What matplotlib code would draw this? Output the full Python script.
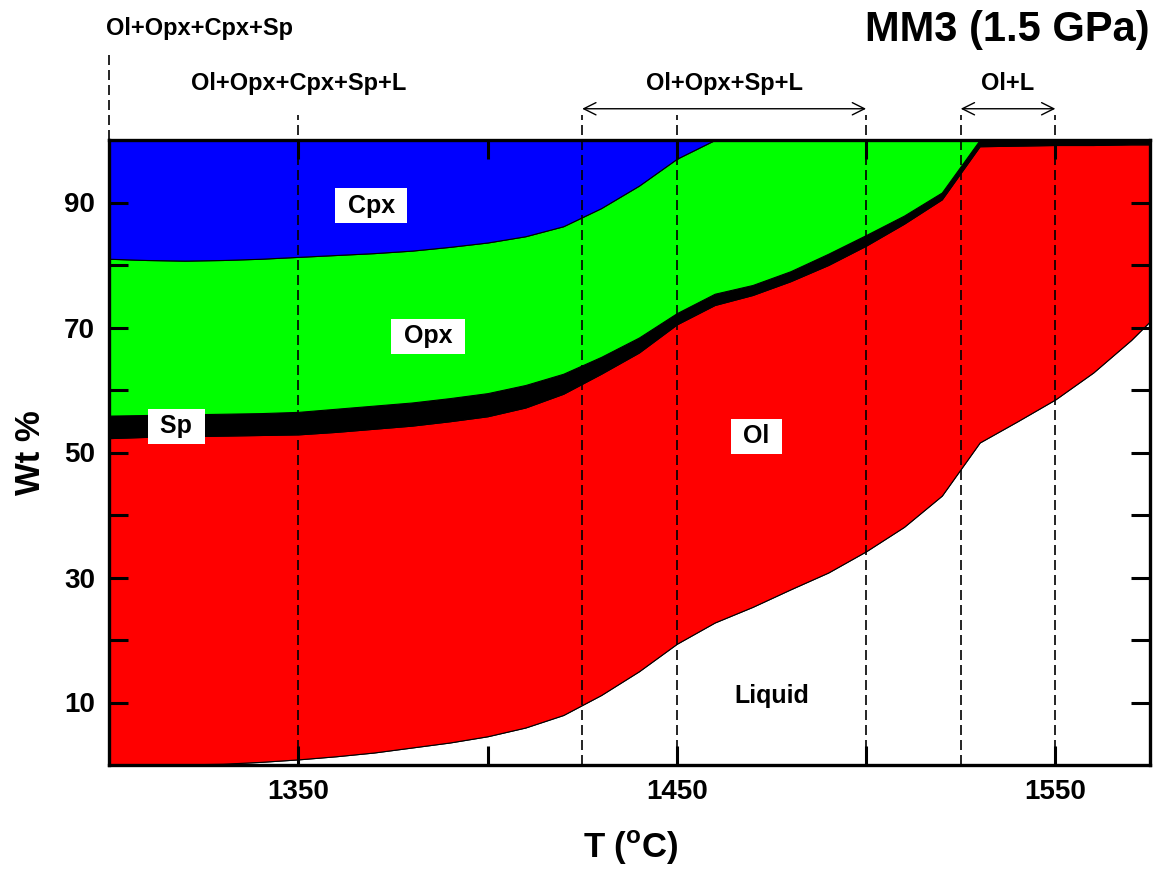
import numpy as np
import matplotlib
matplotlib.use('Agg')
import matplotlib.pyplot as plt

plt.rcParams['font.family'] = ['Liberation Sans', 'DejaVu Sans']
plt.rcParams['font.weight'] = 'bold'
plt.rcParams['mathtext.fontset'] = 'custom'
plt.rcParams['mathtext.rm'] = 'Liberation Sans:bold'
plt.rcParams['mathtext.bf'] = 'Liberation Sans:bold'

# temperature (deg C) and phase proportions (wt %)
temp = [1300, 1310, 1320, 1330, 1340, 1350, 1360, 1370, 1380, 1390, 1400, 1410, 1420, 1430, 1440,
        1450, 1460, 1470, 1480, 1490, 1500, 1510, 1520, 1530, 1540, 1550, 1560, 1570, 1575]
liquid = [0.0, 0.0, 0.1, 0.2, 0.5, 0.9, 1.4, 2.0, 2.8, 3.6, 4.6, 6.0, 8.0, 11.2, 15.0,
          19.4, 22.8, 25.3, 28.1, 30.8, 34.2, 38.1, 43.1, 51.6, 55.0, 58.5, 62.8, 68.0, 71.0]
ol = [52.3, 52.5, 52.5, 52.5, 52.3, 52.0, 51.9, 51.8, 51.5, 51.4, 51.2, 51.2, 51.4, 51.4, 51.0,
      51.1, 50.8, 49.9, 49.3, 49.2, 48.9, 48.5, 47.4, 47.4, 44.1, 40.7, 36.4, 31.3, 28.3]
sp = [3.6, 3.5, 3.5, 3.5, 3.5, 3.6, 3.7, 3.7, 3.7, 3.7, 3.7, 3.6, 3.2, 2.7, 2.4,
      1.8, 1.8, 1.6, 1.6, 1.8, 1.7, 1.3, 1.1, 1.0, 0.9, 0.8, 0.8, 0.7, 0.7]
opx = [25.1, 24.8, 24.6, 24.6, 24.7, 24.8, 24.6, 24.4, 24.3, 24.2, 24.1, 23.8, 23.6, 23.8, 24.3,
       24.7, 24.6, 23.2, 21.0, 18.2, 15.2, 12.1, 8.4, 0, 0, 0, 0, 0, 0]
cpx = [19.0, 19.2, 19.3, 19.2, 19.0, 18.7, 18.4, 18.1, 17.7, 17.1, 16.4, 15.4, 13.8, 10.9, 7.3,
       3.0, 0, 0, 0, 0, 0, 0, 0, 0, 0, 0, 0, 0, 0]

phases = ['Liquid', 'Ol', 'Sp', 'Opx', 'Cpx']
colors = ['white', '#ff0000', 'black', '#00ff00', '#0000ff']

# phase field boundaries and labels
bounds = [1350, 1425, 1450, 1500, 1525, 1550]
fields = ['Ol+Opx+Cpx+Sp', 'Ol+Opx+Cpx+Sp+L', 'Ol+Opx+Sp+L', 'Ol+L']
field_x = [1323.8, 1350, 1462.5, 1537.5]
field_y = [117.9, 109.1, 109.1, 109.1]

fig = plt.figure(figsize=(11.61, 8.73), dpi=100)
ax = fig.add_axes([109/1161, 108/873, 1041/1161, 625/873])

t = np.array(temp)
stack = np.vstack([liquid, ol, sp, opx, cpx])
cum = np.cumsum(stack, axis=0)
lower = np.zeros(len(t))
for i in range(len(phases)):
    ax.fill_between(t, lower, cum[i], facecolor=colors[i], edgecolor='black', linewidth=0.8, zorder=1)
    lower = cum[i]

ax.set_xlim(1300, 1575)
ax.set_ylim(0, 100)

for b in bounds:
    ax.plot([b, b], [0, 104], color='black', lw=1.2, ls=(0, (6, 3)), clip_on=False, zorder=3)
ax.plot([1300, 1300], [100, 114], color='black', lw=1.2, ls=(0, (6, 3)), clip_on=False, zorder=3)

for a, b in [(1425, 1500), (1525, 1550)]:
    ax.annotate('', xy=(a, 105), xytext=(b, 105), annotation_clip=False,
                arrowprops=dict(arrowstyle='<->', lw=1, mutation_scale=22, shrinkA=0, shrinkB=0))

for s, x, y in zip(fields, field_x, field_y):
    ax.text(x, y, s, ha='center', va='center', fontsize=17, fontweight='bold', clip_on=False)

box = dict(boxstyle='square,pad=0.22', facecolor='white', edgecolor='none')
ax.text(1369.3, 89.5, ' Cpx ', ha='center', va='center', fontsize=18, bbox=box, zorder=4)
ax.text(1384.3, 68.6, ' Opx ', ha='center', va='center', fontsize=18, bbox=box, zorder=4)
ax.text(1317.8, 54.2, ' Sp ', ha='center', va='center', fontsize=18, bbox=box, zorder=4)
ax.text(1471, 52.6, ' Ol ', ha='center', va='center', fontsize=18, bbox=box, zorder=4)
ax.text(1475.2, 11, 'Liquid', ha='center', va='center', fontsize=18, zorder=4)

ax.set_xticks([1350, 1400, 1450, 1500, 1550])
ax.set_xticklabels(['1350', '', '1450', '', '1550'])
ax.set_yticks([10, 20, 30, 40, 50, 60, 70, 80, 90])
ax.set_yticklabels(['10', '', '30', '', '50', '', '70', '', '90'])
ax.tick_params(direction='in', length=14, width=2.2, top=True, right=True, labelsize=20, pad=10)
for sp_ in ax.spines.values():
    sp_.set_linewidth(2.4)
    sp_.set_zorder(5)

fig.text(631/1161, 1 - 848/873, r'T ($^{\mathbf{o}}$C)', ha='center', va='center', fontsize=25)
fig.text(30/1161, 1 - 453/873, 'Wt %', ha='center', va='center', fontsize=25, rotation=90)
fig.text(1150/1161, 1 - 30/873, 'MM3 (1.5 GPa)', ha='right', va='center', fontsize=30)

plt.savefig('out.png', dpi=100)
